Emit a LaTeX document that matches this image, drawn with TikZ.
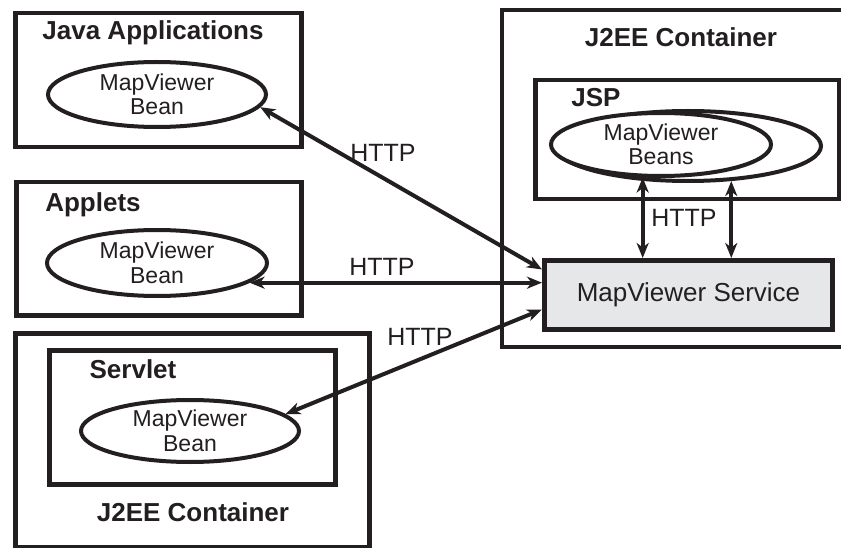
\documentclass[tikz,border=0pt]{standalone}
\usepackage{fontspec}
\setmainfont{Liberation Sans}
\usetikzlibrary{arrows.meta,shapes.geometric,calc}
\definecolor{ink}{HTML}{231F20}
\definecolor{svcfill}{HTML}{E6E7E8}
\begin{document}
\begin{tikzpicture}[x=1pt,y=-1pt,
  boxline/.style={draw=ink, line width=4.5pt},
  container/.style={boxline, rectangle, anchor=north west, inner sep=0pt},
  bean/.style={ellipse, draw=ink, line width=4pt, fill=white, inner sep=0pt},
  beantext/.style={text=ink, align=center, font=\fontsize{23}{24.5}\selectfont},
  title/.style={text=ink, font=\bfseries\fontsize{26}{29}\selectfont},
  http/.style={text=ink, font=\fontsize{25}{28}\selectfont},
  arr/.style={draw=ink, line width=4pt, {Stealth[length=15pt,width=12pt,inset=4.5pt]}-{Stealth[length=15pt,width=12pt,inset=4.5pt]}}
]
\useasboundingbox (0,0) rectangle (841,548);

% left containers
\node[container, minimum width=286pt, minimum height=134pt] (javaBox) at (13,11) {};
\node[title] (javaT) at (153,33) {Java Applications};
\node[bean, minimum width=218pt, minimum height=65pt, label={[beantext]center:MapViewer\\Bean}] (javaE) at (157,94.5) {};

\node[container, minimum width=285pt, minimum height=133pt] (appBox) at (14,180) {};
\node[title] (appT) at (93,205) {Applets};
\node[bean, minimum width=220pt, minimum height=66pt, label={[beantext]center:MapViewer\\Bean}] (appE) at (157,263) {};

\node[container, minimum width=354pt, minimum height=214pt] (botBox) at (13,331) {};
\node[container, minimum width=286pt, minimum height=134pt] (servBox) at (47,348) {};
\node[title] (servT) at (133,369) {Servlet};
\node[bean, minimum width=218pt, minimum height=62pt, label={[beantext]center:MapViewer\\Bean}] (servE) at (190,431) {};
\node[title] (botT) at (193,512) {J2EE Container};

% right container (open to the right edge of the picture)
\coordinate (rTR) at (841,10);
\coordinate (rTL) at (502,10);
\coordinate (rBL) at (502,347);
\coordinate (rBR) at (841,347);
\draw[boxline] (rTR) -- (rTL) -- (rBL) -- (rBR);
\node[title] (rightT) at (681,37) {J2EE Container};
\node[container, minimum width=304pt, minimum height=119pt] (jspBox) at (533,78) {};
\node[title] (jspT) at (596,98) {JSP};
\node[bean, minimum width=266pt, minimum height=70pt] (jspB) at (688,146) {};
\node[bean, minimum width=220pt, minimum height=63pt, label={[beantext]center:MapViewer\\Beans}] (jspF) at (661,144.5) {};

\node[draw=ink, line width=5pt, fill=svcfill, minimum width=288pt, minimum height=69pt,
      anchor=north west, inner sep=0pt, text=ink, font=\fontsize{26}{30}\selectfont] (svc) at (542,258) {MapViewer Service};

% connectors
\coordinate (jEnd) at ($(svc.west)+(0,-25.5)$);
\coordinate (aStart) at (appE.-12.5);
\coordinate (aEnd) at (aStart -| svc.west);
\coordinate (sEnd) at ($(svc.west)+(0,14.5)$);
\coordinate (v1s) at (jspF.241);
\coordinate (v1e) at (v1s |- svc.north);
\coordinate (v2s) at (jspB.321);
\coordinate (v2e) at (v2s |- svc.north);

\draw[arr] (javaE.-7) -- (jEnd);
\draw[arr] (aStart) -- (aEnd);
\draw[arr] (servE.10) -- (sEnd);
\draw[arr] (v1s) -- (v1e);
\draw[arr] (v2s) -- (v2e);

\node[http] (h1) at (383,153) {HTTP};
\node[http] (h2) at (382,267) {HTTP};
\node[http] (h3) at (420,337) {HTTP};
\node[http] (h4) at (684,218) {HTTP};
\end{tikzpicture}
\end{document}
